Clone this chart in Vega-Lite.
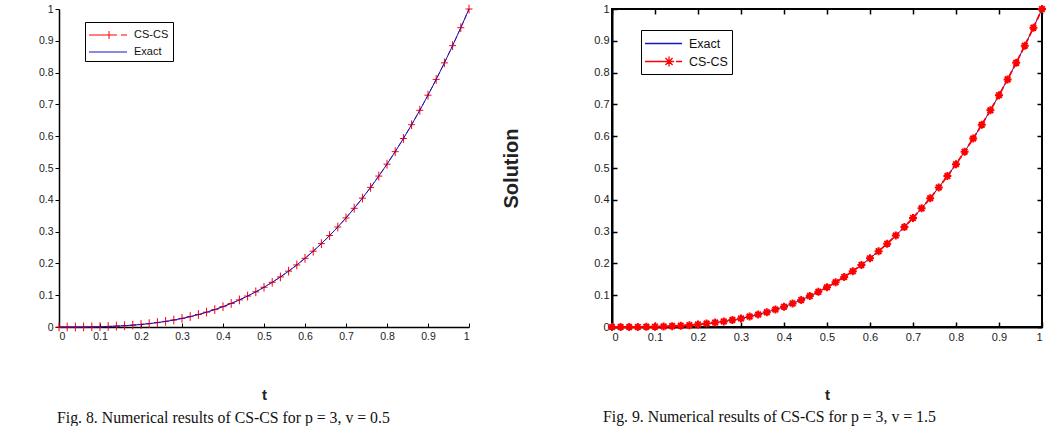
{
  "$schema": "https://vega.github.io/schema/vega-lite/v6.json",
  "background": "white",
  "padding": {"left": 38, "top": 0, "right": 3, "bottom": 0},
  "spacing": 25,
  "resolve": {"scale": {"color": "independent"}, "legend": {"color": "independent"}},
  "config": {
    "font": "Liberation Sans",
    "view": {"stroke": null},
    "axis": {"grid": false, "labelOverlap": false, "labelFont": "Liberation Sans", "labelFontSize": 10.5, "labelColor": "#222", "domainColor": "black", "tickColor": "black", "titleFont": "Liberation Sans", "titleFontWeight": "bold", "titleColor": "#222"},
    "legend": {"labelFont": "Liberation Sans", "labelFontSize": 10.5, "labelColor": "#111"}
  },
  "datasets": {
    "cube": [
      {"t": 0.00, "u": 0},
      {"t": 0.02, "u": 0.000008},
      {"t": 0.04, "u": 0.000064},
      {"t": 0.06, "u": 0.000216},
      {"t": 0.08, "u": 0.000512},
      {"t": 0.10, "u": 0.001},
      {"t": 0.12, "u": 0.001728},
      {"t": 0.14, "u": 0.002744},
      {"t": 0.16, "u": 0.004096},
      {"t": 0.18, "u": 0.005832},
      {"t": 0.20, "u": 0.008},
      {"t": 0.22, "u": 0.010648},
      {"t": 0.24, "u": 0.013824},
      {"t": 0.26, "u": 0.017576},
      {"t": 0.28, "u": 0.021952},
      {"t": 0.30, "u": 0.027},
      {"t": 0.32, "u": 0.032768},
      {"t": 0.34, "u": 0.039304},
      {"t": 0.36, "u": 0.046656},
      {"t": 0.38, "u": 0.054872},
      {"t": 0.40, "u": 0.064},
      {"t": 0.42, "u": 0.074088},
      {"t": 0.44, "u": 0.085184},
      {"t": 0.46, "u": 0.097336},
      {"t": 0.48, "u": 0.110592},
      {"t": 0.50, "u": 0.125},
      {"t": 0.52, "u": 0.140608},
      {"t": 0.54, "u": 0.157464},
      {"t": 0.56, "u": 0.175616},
      {"t": 0.58, "u": 0.195112},
      {"t": 0.60, "u": 0.216},
      {"t": 0.62, "u": 0.238328},
      {"t": 0.64, "u": 0.262144},
      {"t": 0.66, "u": 0.287496},
      {"t": 0.68, "u": 0.314432},
      {"t": 0.70, "u": 0.343},
      {"t": 0.72, "u": 0.373248},
      {"t": 0.74, "u": 0.405224},
      {"t": 0.76, "u": 0.438976},
      {"t": 0.78, "u": 0.474552},
      {"t": 0.80, "u": 0.512},
      {"t": 0.82, "u": 0.551368},
      {"t": 0.84, "u": 0.592704},
      {"t": 0.86, "u": 0.636056},
      {"t": 0.88, "u": 0.681472},
      {"t": 0.90, "u": 0.729},
      {"t": 0.92, "u": 0.778688},
      {"t": 0.94, "u": 0.830584},
      {"t": 0.96, "u": 0.884736},
      {"t": 0.98, "u": 0.941192},
      {"t": 1.00, "u": 1}
    ]
  },
  "hconcat": [
    {
      "width": 410,
      "height": 318,
      "title": {"text": "Fig. 8. Numerical results of CS-CS for p = 3, v = 0.5", "orient": "bottom", "anchor": "start", "frame": "group", "font": "Liberation Serif", "fontSize": 15.8, "fontWeight": "normal", "color": "#111", "offset": 8, "dx": -2},
      "data": {"name": "cube"},
      "encoding": {
        "x": {"field": "t", "type": "quantitative", "scale": {"domain": [0, 1], "nice": false},
              "axis": {"values": [0, 0.1, 0.2, 0.3, 0.4, 0.5, 0.6, 0.7, 0.8, 0.9, 1], "format": "~g", "tickSize": -4, "labelPadding": 8, "domainWidth": 1.5, "title": "t", "titleFontSize": 15, "titlePadding": 46}},
        "y": {"field": "u", "type": "quantitative", "scale": {"domain": [0, 1], "nice": false},
              "axis": {"values": [0, 0.1, 0.2, 0.3, 0.4, 0.5, 0.6, 0.7, 0.8, 0.9, 1], "format": "~g", "tickSize": 4, "labelPadding": 2, "domainWidth": 1.5, "title": null}}
      },
      "layer": [
        {
          "mark": {"type": "line", "strokeWidth": 1, "strokeDash": [5, 3]},
          "encoding": {
            "color": {"datum": "CS-CS", "type": "nominal",
                      "scale": {"domain": ["CS-CS", "Exact"], "range": ["#ff0000", "#1414c8"]},
                      "legend": {"orient": "none", "legendX": 26, "legendY": 13, "title": null, "strokeColor": "black", "fillColor": "white", "padding": 4, "symbolSize": 289, "symbolStrokeWidth": 1, "symbolOffset": 10, "labelOffset": 17, "labelFontSize": 11,
                                 "encode": {"symbols": {"update": {"shape": {"signal": "datum.value === 'CS-CS' ? 'M-2.24,0H1.06M1.53,0H2.24M0.12,-0.47V0.47' : 'M-2.24,0H2.24'"}}}}}}
          }
        },
        {
          "mark": {"type": "point", "shape": "M-1,0H1M0,-1.25V1.25", "filled": false, "color": "#ff0000", "strokeWidth": 1, "size": 49, "opacity": 1}
        },
        {
          "mark": {"type": "line", "strokeWidth": 1},
          "encoding": {
            "color": {"datum": "Exact", "type": "nominal"}
          }
        }
      ]
    },
    {
      "width": 430,
      "height": 318,
      "view": {"stroke": "black", "strokeWidth": 2},
      "title": {"text": "Fig. 9. Numerical results of CS-CS for  p = 3, v = 1.5", "orient": "bottom", "anchor": "start", "frame": "group", "font": "Liberation Serif", "fontSize": 15.8, "fontWeight": "normal", "color": "#111", "offset": 8, "dx": -9},
      "data": {"name": "cube"},
      "resolve": {"axis": {"x": "independent", "y": "independent"}},
      "layer": [
        {
          "mark": {"type": "line", "strokeWidth": 1},
          "encoding": {
            "x": {"field": "t", "type": "quantitative", "scale": {"domain": [0, 1], "nice": false},
                  "axis": {"orient": "bottom", "values": [0, 0.1, 0.2, 0.3, 0.4, 0.5, 0.6, 0.7, 0.8, 0.9, 1], "format": "~g", "tickSize": -5, "labelPadding": 9, "labelFontSize": 11, "domainWidth": 2, "tickWidth": 1.5, "title": "t", "titleFontSize": 15, "titlePadding": 45}},
            "y": {"field": "u", "type": "quantitative", "scale": {"domain": [0, 1], "nice": false},
                  "axis": {"orient": "left", "values": [0, 0.1, 0.2, 0.3, 0.4, 0.5, 0.6, 0.7, 0.8, 0.9, 1], "format": "~g", "tickSize": -5, "labelPadding": 8, "labelFontSize": 11, "domainWidth": 2, "tickWidth": 1.5, "title": "Solution", "titleFontSize": 20, "titlePadding": 72}},
            "color": {"datum": "Exact", "type": "nominal",
                      "scale": {"domain": ["Exact", "CS-CS"], "range": ["#1414c8", "#ff0000"]},
                      "legend": {"orient": "none", "legendX": 29, "legendY": 21, "title": null, "strokeColor": "black", "fillColor": "white", "padding": 4, "symbolSize": 289, "symbolStrokeWidth": 1.3, "symbolOffset": 9, "labelOffset": 16, "labelFontSize": 12.5,
                                 "encode": {"symbols": {"update": {"shape": {"signal": "datum.value === 'CS-CS' ? 'M-2.18,0H1M1.47,0H2.18M0.65,-0.6V0.6M0.05,0H1.25M0.23,-0.42L1.07,0.42M0.23,0.42L1.07,-0.42' : 'M-2.18,0H2.18'"}}}}}}
          }
        },
        {
          "mark": {"type": "line", "strokeWidth": 1.8, "strokeDash": [6, 3]},
          "encoding": {
            "x": {"field": "t", "type": "quantitative",
                  "axis": {"orient": "top", "values": [0, 0.1, 0.2, 0.3, 0.4, 0.5, 0.6, 0.7, 0.8, 0.9, 1], "labels": false, "tickSize": -5, "domain": false, "tickWidth": 1.5, "title": null}},
            "y": {"field": "u", "type": "quantitative",
                  "axis": {"orient": "right", "values": [0, 0.1, 0.2, 0.3, 0.4, 0.5, 0.6, 0.7, 0.8, 0.9, 1], "labels": false, "tickSize": -5, "domain": false, "tickWidth": 1.5, "title": null}},
            "color": {"datum": "CS-CS", "type": "nominal"}
          }
        },
        {
          "mark": {"type": "point", "shape": "M-1,0H1M0,-1V1M-0.7,-0.7L0.7,0.7M-0.7,0.7L0.7,-0.7", "filled": false, "color": "#ff0000", "strokeWidth": 2, "size": 64, "opacity": 1},
          "encoding": {
            "x": {"field": "t", "type": "quantitative", "axis": null},
            "y": {"field": "u", "type": "quantitative", "axis": null}
          }
        }
      ]
    }
  ]
}
